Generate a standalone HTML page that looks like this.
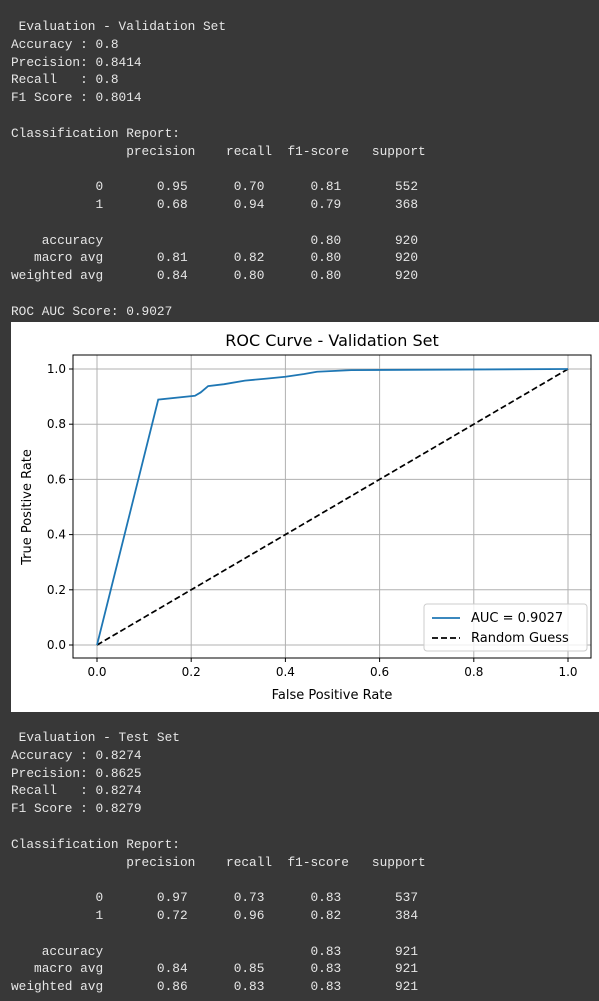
<!DOCTYPE html>
<html><head><meta charset="utf-8">
<style>
body{margin:0;width:599px;height:1001px;background:#383838;overflow:hidden;position:relative}
pre{margin:0;position:absolute;left:11px;font-family:"Liberation Mono",monospace;font-size:12.8px;line-height:17.8px;color:#e6e6e6}
#chart{position:absolute;left:11px;top:322px;width:588px;height:390px;background:#fff}
svg text{font-family:"DejaVu Sans","Liberation Sans",sans-serif;fill:#000}
</style></head><body>
<pre style="top:18px"> Evaluation - Validation Set
Accuracy : 0.8
Precision: 0.8414
Recall   : 0.8
F1 Score : 0.8014

Classification Report:
               precision    recall  f1-score   support

           0       0.95      0.70      0.81       552
           1       0.68      0.94      0.79       368

    accuracy                           0.80       920
   macro avg       0.81      0.82      0.80       920
weighted avg       0.84      0.80      0.80       920

ROC AUC Score: 0.9027</pre>
<div id="chart">
<svg id="svg" width="588" height="390"></svg>
</div>
<pre style="top:729px"> Evaluation - Test Set
Accuracy : 0.8274
Precision: 0.8625
Recall   : 0.8274
F1 Score : 0.8279

Classification Report:
               precision    recall  f1-score   support

           0       0.97      0.73      0.83       537
           1       0.72      0.96      0.82       384

    accuracy                           0.83       921
   macro avg       0.84      0.85      0.83       921
weighted avg       0.86      0.83      0.83       921</pre>
<script>
const fpr=[0,0.13,0.208,0.22,0.236,0.27,0.314,0.36,0.40,0.44,0.467,0.54,1];
const tpr=[0,0.889,0.903,0.915,0.938,0.945,0.958,0.965,0.972,0.982,0.990,0.996,1];
const ticks=[0,0.2,0.4,0.6,0.8,1.0];
const tickLabels=["0.0","0.2","0.4","0.6","0.8","1.0"];
const svg=document.getElementById('svg');
const NS='http://www.w3.org/2000/svg';
const X=v=>86+v*471, Y=v=>323-v*276;
function mk(t,a,p){const e=document.createElementNS(NS,t);for(const k in a)e.setAttribute(k,a[k]);(p||svg).appendChild(e);return e;}
const L=62,R=580,T=33,B=336;
ticks.forEach((t,i)=>{
 const gx=mk('line',{x1:X(t),x2:X(t),y1:T,y2:B,stroke:'#b0b0b0','stroke-width':1});
 
 
 const gy=mk('line',{x1:L,x2:R,y1:Y(t),y2:Y(t),stroke:'#b0b0b0','stroke-width':1});
 
 
 mk('line',{x1:X(t),x2:X(t),y1:B,y2:B+4,stroke:'#000'});
 mk('line',{x1:L-4,x2:L,y1:Y(t),y2:Y(t),stroke:'#000'});
 const tx=mk('text',{x:X(t),y:B+18,'text-anchor':'middle','font-size':12});tx.textContent=tickLabels[i];
 
 
 const ty=mk('text',{x:L-7,y:Y(t)+4,'text-anchor':'end','font-size':12});ty.textContent=tickLabels[i];
 
 
});
const diag=mk('line',{x1:X(0),y1:Y(0),x2:X(1),y2:Y(1),stroke:'#000','stroke-width':1.7,'stroke-dasharray':'6,3'});


const roc=mk('polyline',{points:fpr.map((f,i)=>X(f)+','+Y(tpr[i])).join(' '),fill:'none',stroke:'#1f77b4','stroke-width':1.8});


const fr=mk('rect',{x:L,y:T,width:R-L,height:B-T,fill:'none',stroke:'#000','stroke-width':1});


const ti=mk('text',{x:321,y:24,'text-anchor':'middle','font-size':16});ti.textContent='ROC Curve - Validation Set';


const xl=mk('text',{x:321,y:377,'text-anchor':'middle','font-size':13});xl.textContent='False Positive Rate';


const yl=mk('text',{x:20,y:185,'text-anchor':'middle','font-size':13,transform:'rotate(-90 20 185)'});yl.textContent='True Positive Rate';


const lg=mk('rect',{x:413,y:282,width:163,height:47,rx:3,fill:'#fff','fill-opacity':0.8,stroke:'#ccc'});


mk('line',{x1:421,x2:449,y1:296,y2:296,stroke:'#1f77b4','stroke-width':1.8});
const l1=mk('text',{x:460,y:300,'font-size':13});l1.textContent='AUC = 0.9027';


mk('line',{x1:421,x2:449,y1:316,y2:316,stroke:'#000','stroke-width':1.7,'stroke-dasharray':'6,3'});
const l2=mk('text',{x:460,y:320,'font-size':13});l2.textContent='Random Guess';


</script>
</body></html>
